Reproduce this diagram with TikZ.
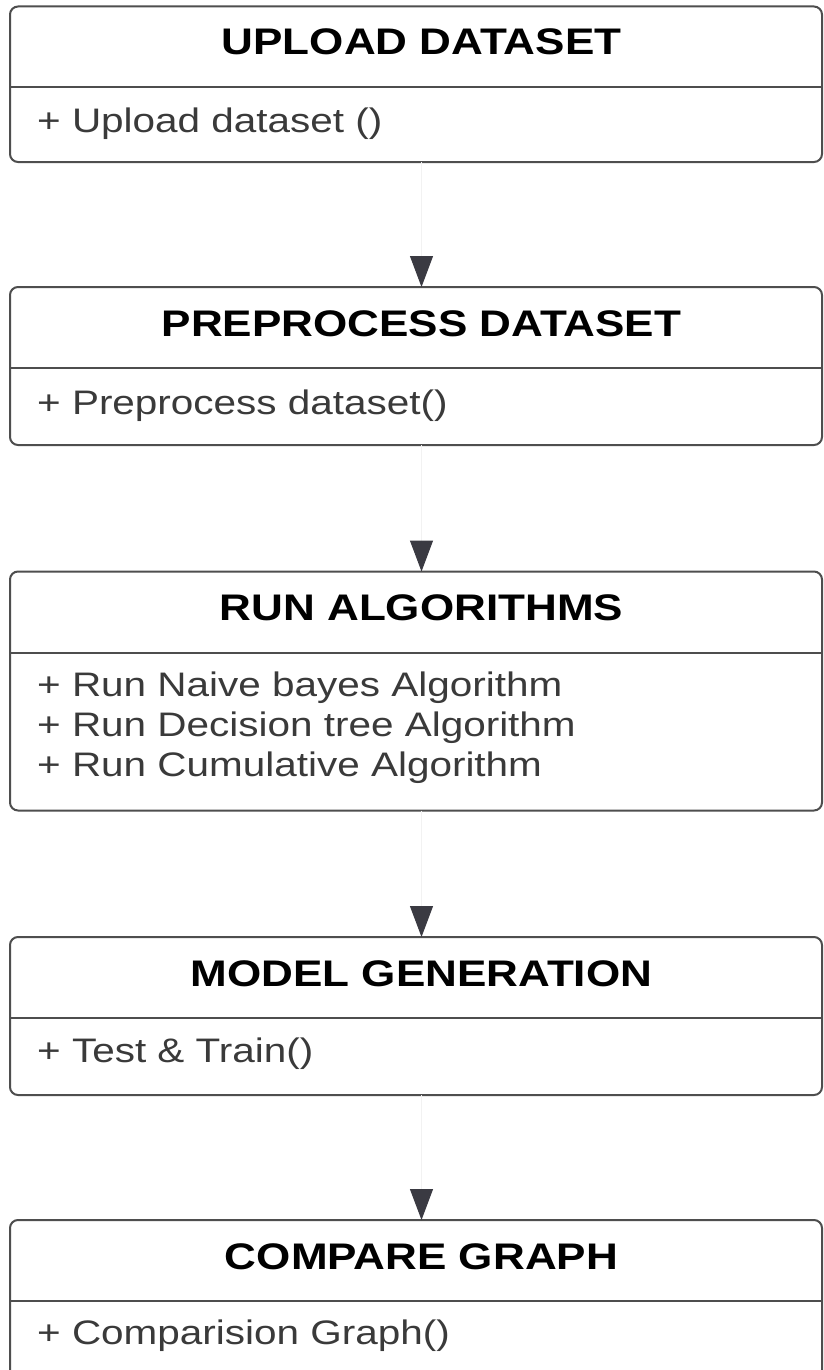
\documentclass[tikz,border=0pt]{standalone}
\usepackage{fontspec}
\usepackage{graphicx}
\setmainfont{Liberation Sans}
\usetikzlibrary{arrows.meta}

\definecolor{edge}{HTML}{4E4E4E}
\definecolor{tipc}{HTML}{3A3A42}
\definecolor{bodytext}{HTML}{3A3A3A}
\definecolor{faint}{HTML}{F2F2F2}

% wide-set text, as in the class boxes
\newcommand{\wide}[1]{\scalebox{1.19}[1]{#1}}

\tikzset{
  umlbox/.style={draw=edge, line width=2pt, rounded corners=8pt,
    minimum width=812pt, inner sep=0pt, outer sep=0pt},
  divider/.style={draw=edge, line width=2pt},
  titletext/.style={inner sep=0pt, anchor=base,
    font=\fontsize{37}{44}\selectfont\bfseries, text=black},
  membertext/.style={inner sep=0pt, anchor=base west,
    font=\fontsize{34}{40}\selectfont, text=bodytext},
  flow/.style={draw=faint, line width=1pt,
    -{Triangle[width=23pt,length=31pt,color=tipc]}}
}

\begin{document}
\begin{tikzpicture}[x=1pt, y=-1pt]
  \useasboundingbox (0,0) rectangle (823,1370);
  \clip (0,0) rectangle (823,1370);
  \fill[white] (0,0) rectangle (823,1370);

  \coordinate (ax) at (421.5,0);

  % class boxes
  \node[umlbox, minimum height=155.5pt] (b1) at (416,84.25) {};
  \node[umlbox, minimum height=158pt]   (b2) at (416,366) {};
  \node[umlbox, minimum height=239pt]   (b3) at (416,691) {};
  \node[umlbox, minimum height=158pt]   (b4) at (416,1016) {};
  \node[umlbox, minimum height=158pt]   (b5) at (416,1299) {};

  % compartment dividers
  \foreach \b in {b1,b2,b3,b4,b5}
    \draw[divider] ([yshift=-81pt]\b.north west) -- ([yshift=-81pt]\b.north east);

  % class names
  \node[titletext] (t1) at (421.5,55)   {\wide{UPLOAD DATASET}};
  \node[titletext] (t2) at (421.5,336)  {\wide{PREPROCESS DATASET}};
  \node[titletext] (t3) at (421.5,620)  {\wide{RUN ALGORITHMS}};
  \node[titletext] (t4) at (421.5,986)  {\wide{MODEL GENERATION}};
  \node[titletext] (t5) at (421.5,1269) {\wide{COMPARE GRAPH}};

  % operations
  \node[membertext] (m1) at (37,132)  {\wide{+ Upload dataset ()}};
  \node[membertext] (m2) at (37,414)  {\wide{+ Preprocess dataset()}};
  \node[membertext] (m3) at (37,696)  {\wide{\begin{tabular}[t]{@{}l@{}}
      + Run Naive bayes Algorithm\\
      + Run Decision tree Algorithm\\
      + Run Cumulative Algorithm\end{tabular}}};
  \node[membertext] (m4) at (37,1062) {\wide{+ Test \& Train()}};
  \node[membertext] (m5) at (37,1344) {\wide{+ Comparision Graph()}};

  % flow between steps
  \draw[flow] (b1.south -| ax) -- (b2.north -| ax);
  \draw[flow] (b2.south -| ax) -- (b3.north -| ax);
  \draw[flow] (b3.south -| ax) -- (b4.north -| ax);
  \draw[flow] (b4.south -| ax) -- (b5.north -| ax);
\end{tikzpicture}
\end{document}
